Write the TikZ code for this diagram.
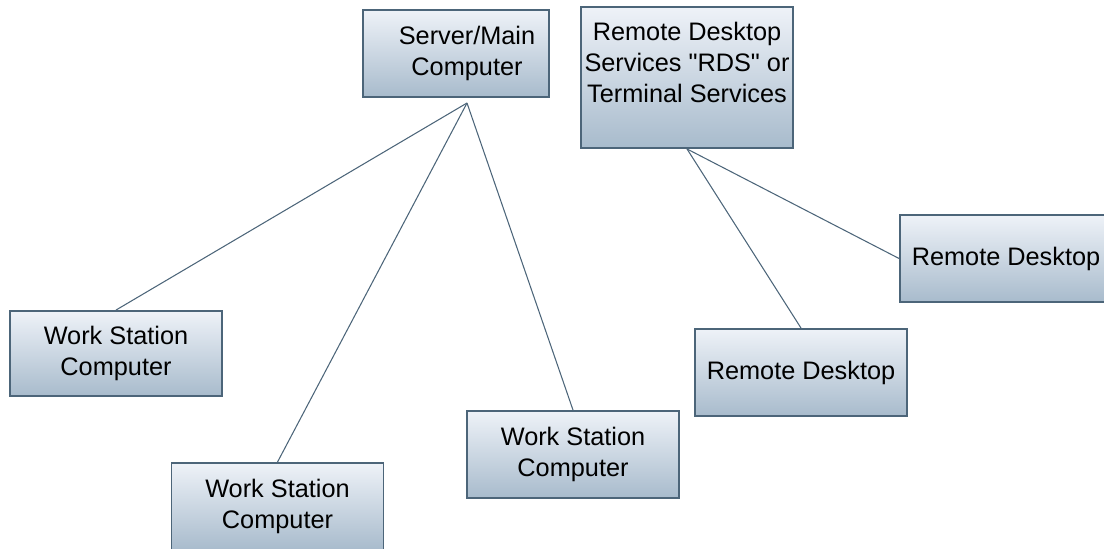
\documentclass[tikz,border=0pt]{standalone}
\usepackage{fontspec}
\setmainfont{Liberation Sans}[Ligatures=TeXOff]
\definecolor{boxtop}{HTML}{EEF2F8}
\definecolor{boxbot}{HTML}{A8BBCC}
\definecolor{edge}{HTML}{4C6579}
\tikzset{
  pcbox/.style={draw=edge,line width=1.1pt,top color=boxtop,bottom color=boxbot,
    inner sep=0pt,align=center,minimum width=4.24cm,minimum height=1.72cm,
    font=\fontsize{14.4}{17.6}\selectfont},
  link/.style={edge,line width=.6pt}
}
\begin{document}
\begin{tikzpicture}[x=0.02cm,y=-0.02cm]
\useasboundingbox (0,0) rectangle (1104,548);
%
\node[pcbox,minimum width=3.72cm,minimum height=1.74cm] (srv) at (456,53.5)
  {\hspace*{0.44cm}Server/Main\\\hspace*{0.44cm}Computer};
\node[pcbox,minimum height=2.82cm] (rds) at (687,77.5)
  {Remote Desktop\\Services "RDS" or\\Terminal Services\\\mbox{}};
%
\node[pcbox,minimum height=1.70cm] (ws1) at (116,353.5) {Work Station\\Computer};
\node[pcbox,minimum height=1.74cm] (ws2) at (277.5,506.5) {Work Station\\Computer};
\node[pcbox,minimum height=1.74cm] (ws3) at (573,454.5) {Work Station\\Computer};
%
\node[pcbox,minimum height=1.74cm] (rd1) at (1006,258.5) {Remote Desktop};
\node[pcbox,minimum height=1.74cm] (rd2) at (801,372.5) {Remote Desktop};
%
\coordinate (hub) at (467,103);
\draw[link] (hub) -- (ws1.north);
\draw[link] (hub) -- (ws2.north);
\draw[link] (hub) -- (ws3.north);
\draw[link] (rds.south) -- (rd2.north);
\draw[link] (rds.south) -- (rd1.west);
\end{tikzpicture}
\end{document}
